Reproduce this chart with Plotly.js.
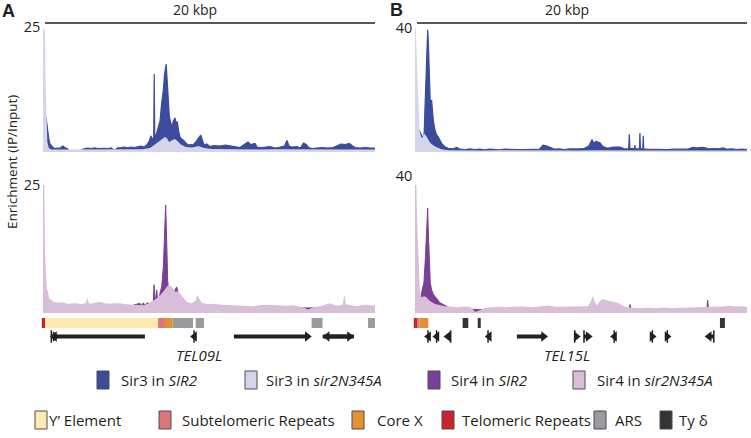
<!DOCTYPE html>
<html><head><meta charset="utf-8">
<script src="https://cdn.plot.ly/plotly-3.0.1.min.js"></script>
<style>html,body{margin:0;padding:0;background:#fff;}#chart{width:751px;height:438px;}</style>
</head><body><div id="chart"></div>
<script>
// ---------------- DATA (x = kb from chromosome end, y = enrichment IP/Input) ----------------
// Panel A (TEL09L) – Sir3
const aSir3WT_x = [0.18,0.24,0.3,0.36,0.42,0.5,0.6,0.72,0.85,1.0,1.2,1.3,1.45,1.55,1.75,2.0,2.25,2.5,2.7,2.9,3.1,3.3,3.5,3.7,3.9,4.1,4.3,4.5,4.7,4.9,5.1,5.3,5.5,5.7,5.9,6.1,6.25,6.4,6.5,6.6,6.67,6.7,6.73,6.8,6.9,7.0,7.05,7.15,7.25,7.32,7.38,7.42,7.49,7.55,7.61,7.68,7.75,7.85,7.95,8.02,8.09,8.17,8.25,8.35,8.45,8.6,8.75,8.9,9.05,9.2,9.36,9.5,9.6,9.7,9.85,10.06,10.3,10.66,11.0,11.45,11.87,12.17,12.35,12.5,12.77,12.9,13.2,13.67,14.0,14.3,14.55,14.7,14.82,15.0,15.3,15.5,15.7,15.85,16.0,16.2,16.5,16.8,17.1,17.47,17.75,17.95,18.2,18.45,18.65,18.8,19.1,19.4,19.7,20.0];
const aSir3WT_y = [7,5.2,3.5,2.4,1.6, 1.2,0.9,0.7,0.8,0.75, 1.2,0.9,0.7,0.3,0.3, 0.3,0.3,0.7,0.8,0.7, 0.85,0.7,0.8,0.75,0.7, 0.8,0.3,0.85,0.9,1.0, 0.85,1.0,0.9,1.1,1.2, 1.0,1.4,2.2,3.2,2.5, 3,15.6,3.5,3.2,4.6, 5.5,6.2,9.8,12.4,15.5, 17,17.6,13.8,10,7, 6,5,6.2,6.8,5.8, 6.1,4.2,3,2.6,2.4, 1.8,1.4,1.5,1.4,2.0, 2.8,3.4,2.4,1.4,1.6, 1.1,1.3,1.2,1.4,1.1, 0.9,1.6,2.0,1.5,1.7, 1.0,0.9,1.1,0.8,1.0, 1.2,2.3,1.2,1.0,1.1, 0.8,1.8,1.5,0.9,0.7, 0.8,0.9,0.8,0.9,1.3, 1.6,1.5,1.7,1.2,0.9, 0.8,0.9,0.8,0.8];
const aSir3Mut_x = [0,0.12,0.16,0.2,0.26,0.35,0.5,1.0,2.0,3.0,4.0,5.0,6.0,6.45,6.75,7.05,7.2,7.35,7.45,7.6,7.8,7.95,8.1,8.3,8.6,9.0,9.36,9.7,10.2,11,12,13,14,15,16,17,18,19,20];
const aSir3Mut_y = [25,24,14,6,2, 0.8,0.5,0.5,0.5,0.45, 0.5,0.5,0.55,0.8,1.5, 2.2,2.6,3.0,2.8,2.0, 2.4,2.6,2.2,1.5,1.0, 0.9,1.2,0.8,0.6,0.55, 0.6,0.5,0.55,0.5,0.5, 0.55,0.5,0.5,0.5];
// Panel A – Sir4
const aSir4WT_x = [0,0.5,1,2,3,4,5,5.84,5.95,6.05,6.14,6.3,6.45,6.49,6.64,6.69,6.74,6.77,6.85,6.95,7.05,7.15,7.25,7.31,7.39,7.45,7.51,7.61,7.75,7.95,8.05,8.15,8.25,8.36,8.45,8.7,9,10,12,14,16,18,20];
const aSir4WT_y = [1.5,1.2,1.3,1.2,1.3, 1.2,1.1,1.9,1.4,2.0, 1.5,2.0,1.7,2.0,2.0, 5.5,2.0,2.0,4.5,1.0, 3.9,5.1,9,14.9,21.1, 14.3,6.4,3.2,2.0,4.5, 5.1,3.9,2.5,1.6,1.3, 1.2,1.2,1.0,1.0,0.9, 0.9,1.0,1.0];
const aSir4Mut_x = [0,0.08,0.12,0.22,0.38,0.62,0.92,1.2,1.43,1.7,2.03,2.3,2.6,2.67,2.75,2.83,3.1,3.43,3.7,4.04,4.3,4.64,5.0,5.42,5.7,6.02,6.3,6.55,6.85,7.05,7.25,7.4,7.55,7.75,7.95,8.15,8.36,8.66,8.96,9.2,9.3,9.4,9.56,9.9,10.26,10.8,11.45,12.0,12.65,13.0,13.49,14.1,14.7,15.1,15.48,15.8,15.96,16.3,16.69,17.0,17.29,17.6,17.77,18.05,18.15,18.25,18.5,18.9,19.2,19.5,19.8,20];
const aSir4Mut_y = [25,25,12,5.1,2.9, 2.2,2.0,2.1,1.8,1.9, 1.9,1.7,2.0,3.0,2.0, 1.8,2.0,2.2,1.9,1.8, 1.9,1.9,1.7,1.6,1.6, 1.5,1.8,2.2,2.9,3.4, 4.2,4.8,5.5,5.2,4.2, 4.2,3.3,2.2,1.9,2.4, 3.4,2.8,2.0,1.7,1.8, 1.6,1.5,1.4,1.3,1.5, 1.6,1.5,1.4,1.5,1.3, 1.0,0.7,1.1,1.3,1.6, 1.9,1.5,1.4,1.6,3.5, 1.7,1.5,1.3,1.5,1.6, 1.5,1.5];
// Panel B (TEL15L) – Sir3
const bSir3WT_x = [0.25,0.36,0.44,0.5,0.56,0.6,0.66,0.72,0.765,0.8,0.84,0.88,0.92,1.0,1.1,1.2,1.3,1.4,1.6,1.8,2.0,2.3,2.51,2.7,3.0,3.3,3.6,3.9,4.2,4.5,4.8,5.1,5.4,5.7,6.0,6.3,6.6,6.9,7.2,7.5,7.71,7.9,8.13,8.4,8.7,9.0,9.3,9.6,9.9,10.2,10.45,10.66,10.8,10.9,11.14,11.3,11.6,11.93,12.15,12.35,12.6,12.87,12.91,12.95,13.1,13.22,13.25,13.28,13.45,13.52,13.55,13.58,13.65,13.72,13.75,13.78,14.0,14.4,14.8,15.2,15.6,16.0,16.4,16.75,17.0,17.35,17.7,18.0,18.3,18.55,18.8,19.1,19.4,19.7,20];
const bSir3WT_y = [7.1,5.5,4.9,2.8,7, 14,24,33,39.4,36, 28.7,21,15.8,16.8,10.3, 7.1,5.5,4.9,2.8,1.7, 1.2,1.0,1.5,0.9,0.8, 1.0,0.8,0.9,0.7,0.9, 0.8,0.7,0.9,0.8,0.9, 0.8,0.8,0.9,0.8,0.9, 2.2,2.0,1.5,0.9,1.0, 0.8,1.0,0.9,1.0,1.2, 1.8,3.9,2.8,3.5,3.0, 1.8,1.2,1.6,1.5,1.6, 1.0,1.0,5.7,1.0,1.2, 1.0,2.2,1.0,1.0,1.0, 6.1,1.0,1.0,1.0,5.2, 1.0,0.9,0.8,0.7,0.8, 0.9,0.8,0.9,1.5,1.3, 1.5,1.0,1.1,1.0,1.3, 0.9,1.0,0.8,0.9,0.8];
const bSir3Mut_x = [0,0.05,0.12,0.2,0.28,0.36,0.45,0.55,0.7,0.85,1.0,1.3,1.6,2.0,3,4,5,6,7,8,9,10,11,12,13,14,15,16,17,18,19,20];
const bSir3Mut_y = [40,40,28,14,7, 5,4.5,6,5,3.5, 2.5,1.5,0.9,0.6,0.5, 0.5,0.55,0.5,0.5,0.6, 0.5,0.5,0.6,0.5,0.5, 0.5,0.5,0.5,0.5,0.5, 0.5,0.5];
// Panel B – Sir4
const bSir4WT_x = [0,0.3,0.4,0.46,0.54,0.62,0.68,0.765,0.8,0.86,0.92,1.0,1.1,1.2,1.35,1.5,1.7,1.9,2.1,2.5,4,6,8,10,12,12.9,12.95,13.0,14,16,17.58,17.63,17.68,18,20];
const bSir4WT_y = [1,3,6,7.7,9, 15.5,22,30.6,24,14, 8.8,6.8,5.5,4.9,3.8, 3.0,2.5,2.0,1.4,1.2, 1.0,1.0,1.0,1.0,1.0, 1.0,2.5,1.0,1.0,1.0, 1.0,3.8,1.0,1.0,1.0];
const bSir4Mut_x = [0,0.08,0.14,0.2,0.3,0.4,0.55,0.7,0.9,1.2,1.5,1.8,2.2,2.6,3.0,3.31,3.5,3.61,3.75,3.92,4.22,4.6,5.0,5.5,6.0,6.5,7.0,7.5,8.0,8.5,9.0,9.5,10.0,10.42,10.6,10.72,10.85,10.96,11.1,11.25,11.5,11.75,12.0,12.23,12.5,12.77,13.2,13.55,14.0,14.5,15.0,15.5,15.96,16.5,17.0,17.5,18.0,18.5,18.98,19.3,19.6,20];
const bSir4Mut_y = [37.4,37.4,25,15.5,5.8, 4.5,5,4.5,3.5,2.6, 2.2,2.0,1.9,1.7,1.9, 1.8,1.0,0.4,0.5,0.8, 1.5,1.7,1.8,1.7,1.8, 1.9,1.7,1.9,2.2,1.8, 1.9,1.8,1.9,2.0,3.5, 5.0,3.0,2.2,3.2,4.1, 3.8,3.5,3.2,2.9,2.2, 1.6,1.5,1.4,1.5,1.4, 1.6,1.4,1.5,1.6,1.5, 1.7,1.8,1.9,2.1,1.9, 2.0,1.8];

// Genomic features (kb)
const featA_type  = ["Telomeric Repeats","Y’ Element","Subtelomeric Repeats","Core X","ARS","ARS","ARS","ARS"];
const featA_start = [-0.08, 0.12, 6.93, 7.35, 7.81, 9.2, 16.18, 19.58];
const featA_end   = [0.12, 6.93, 7.35, 7.81, 9.04, 9.7, 16.84, 20.1];
const featB_type  = ["Telomeric Repeats","Subtelomeric Repeats","Core X","Ty δ","Ty δ","Ty δ"];
const featB_start = [-0.08, 0.12, 0.26, 2.87, 3.78, 18.37];
const featB_end   = [0.12, 0.26, 0.8, 3.21, 3.96, 18.67];
// Genes: start -> end (end = arrow head)
const geneA_start = [6.14, 0.5, 9.1, 11.5, 16.85, 18.73];
const geneA_end   = [0.42, 1.0, 8.86, 16.19, 18.73, 16.85];
const geneB_start = [0.78, 1.3, 2.15, 4.4, 6.14, 9.62, 10.18, 12.0, 14.3, 15.2, 18.0];
const geneB_end   = [0.55, 1.05, 1.72, 4.2, 8.01, 9.98, 10.7, 11.75, 14.55, 15.45, 17.45];

const seriesNames = ["Sir3 in <i>SIR2</i>","Sir3 in <i>sir2N345A</i>","Sir4 in <i>SIR2</i>","Sir4 in <i>sir2N345A</i>"];
const featureNames = ["Y’ Element","Subtelomeric Repeats","Core X","Telomeric Repeats","ARS","Ty δ"];

// ---------------- STYLE ----------------
const W = 751, H = 438;
const PX = v => v / W, PY = v => 1 - v / H;
const INK = '#231f20';
const FONT = 'Open Sans, Liberation Sans, sans-serif';
const seriesColors = ["#3b4c9c","#d5d5ea","#7b3f97","#d8bed9"];
const featureColors = {"Y’ Element":"#fcebb1","Subtelomeric Repeats":"#d9777a","Core X":"#e4922f","Telomeric Repeats":"#cc2229","ARS":"#9a9b9e","Ty δ":"#353535"};
const KB_PX = 16.6; // pixels per kb
const headOff = 4.5 / KB_PX;

const traces = [];
function area(x, y, xa, ya, color, lw) {
  traces.push({type:'scatter', mode:'lines', x:x, y:y, xaxis:xa, yaxis:ya, fill:'tozeroy',
    fillcolor:color, line:{color:color, width:lw}, hoverinfo:'skip', showlegend:false});
}
area(aSir3WT_x, aSir3WT_y, 'x', 'y', seriesColors[0], 1.2);
area(aSir3Mut_x, aSir3Mut_y, 'x', 'y', seriesColors[1], 0);
area(aSir4WT_x, aSir4WT_y, 'x2', 'y2', seriesColors[2], 1.0);
area(aSir4Mut_x, aSir4Mut_y, 'x2', 'y2', seriesColors[3], 0);
area(bSir3WT_x, bSir3WT_y, 'x3', 'y3', seriesColors[0], 1.2);
area(bSir3Mut_x, bSir3Mut_y, 'x3', 'y3', seriesColors[1], 0);
area(bSir4WT_x, bSir4WT_y, 'x4', 'y4', seriesColors[2], 1.0);
area(bSir4Mut_x, bSir4Mut_y, 'x4', 'y4', seriesColors[3], 0);

function features(types, starts, ends, xa, ya) {
  const uniq = [...new Set(types)];
  uniq.forEach(t => {
    const idx = types.map((v,i)=>v===t?i:-1).filter(i=>i>=0);
    traces.push({type:'bar', orientation:'h', xaxis:xa, yaxis:ya,
      base: idx.map(i=>starts[i]), x: idx.map(i=>ends[i]-starts[i]), y: idx.map(()=>23),
      width: idx.map(()=>10), marker:{color:featureColors[t], line:{width:0}}, hoverinfo:'skip', showlegend:false});
  });
}
features(featA_type, featA_start, featA_end, 'x5', 'y5');
features(featB_type, featB_start, featB_end, 'x6', 'y6');

function genes(starts, ends, xa, ya) {
  const lx = [], ly = [], mx = [], my = [], ms = [], tx = [], ty = [];
  starts.forEach((s,i) => {
    const e = ends[i], d = e > s ? 1 : -1;
    const hc = e - d*headOff;
    lx.push(s, hc, null); ly.push(9.5, 9.5, null);
    mx.push(hc); my.push(9.5); ms.push(d>0?'triangle-right':'triangle-left');
    if (Math.abs(e - s) < 0.6) { tx.push(s); ty.push(9.5); }
  });
  traces.push({type:'scatter', mode:'lines', x:lx, y:ly, xaxis:xa, yaxis:ya, line:{color:INK, width:4}, hoverinfo:'skip', showlegend:false, connectgaps:false});
  traces.push({type:'scatter', mode:'markers', x:mx, y:my, xaxis:xa, yaxis:ya, marker:{symbol:ms, size:9, color:INK, line:{width:0}}, hoverinfo:'skip', showlegend:false});
  if (tx.length) traces.push({type:'scatter', mode:'markers', x:tx, y:ty, xaxis:xa, yaxis:ya, marker:{symbol:'line-ns', size:9, line:{color:INK, width:1.5}}, hoverinfo:'skip', showlegend:false});
}
genes(geneA_start, geneA_end, 'x5', 'y5');
genes(geneB_start, geneB_end, 'x6', 'y6');

const base = {showgrid:false, zeroline:false, showline:false, fixedrange:true};
const xA = Object.assign({}, base, {domain:[PX(41.34), PX(375)], range:[-0.1,20], visible:false});
const xB = Object.assign({}, base, {domain:[PX(413.34), PX(747)], range:[-0.1,20], visible:false});
function yAx(d0, d1, top, anchor) {
  return Object.assign({}, base, {domain:[PY(d0), PY(d1)], range:[0, top], tickvals:[top], ticks:'',
    anchor:anchor, tickfont:{family:FONT, size:14.5, color:INK}});
}

const annotations = [
  {text:'<b>A</b>', x:PX(8.5), y:PY(11), font:{family:'Liberation Sans, Arial', size:18, color:INK}},
  {text:'<b>B</b>', x:PX(396), y:PY(10), font:{family:'Liberation Sans, Arial', size:18, color:INK}},
  {text:'20 kbp', x:PX(195), y:PY(10), font:{family:FONT, size:14, color:INK}},
  {text:'20 kbp', x:PX(567), y:PY(10), font:{family:FONT, size:14, color:INK}},
  {text:'Enrichment (IP/Input)', x:PX(12), y:PY(162), textangle:-90, font:{family:FONT, size:13.5, color:INK}},
  {text:'<i>TEL09L</i>', x:PX(199), y:PY(355), font:{family:FONT, size:15, color:INK}},
  {text:'<i>TEL15L</i>', x:PX(567), y:PY(355), font:{family:FONT, size:15, color:INK}}
].map(a => Object.assign({xref:'paper', yref:'paper', showarrow:false, xanchor:'center', yanchor:'middle'}, a));

const shapes = [
  {type:'line', xref:'x', yref:'paper', x0:0.12, x1:20, y0:PY(23), y1:PY(23), line:{color:INK, width:1.5}},
  {type:'line', xref:'x3', yref:'paper', x0:0.12, x1:20, y0:PY(23), y1:PY(23), line:{color:INK, width:1.5}}
];

// legends
const leg1Box = [97, 245, 428, 573], leg1Txt = [119, 264, 449, 595];
const leg2Box = [35, 159, 352, 442, 594, 660], leg2Txt = [47, 180, 375, 460, 613, 677];
function legendRow(names, colors, boxX, txtX, yc) {
  names.forEach((n,i) => {
    shapes.push({type:'rect', xref:'paper', yref:'paper', x0:PX(boxX[i]), x1:PX(boxX[i]+12), y0:PY(yc+9), y1:PY(yc-9),
      fillcolor:colors[i], line:{color:'#4d4d4f', width:1}});
    annotations.push({text:n, x:PX(txtX[i]), y:PY(yc), xref:'paper', yref:'paper', xanchor:'left', yanchor:'middle', showarrow:false,
      font:{family:FONT, size:15, color:INK}});
  });
}
legendRow(seriesNames, seriesColors, leg1Box, leg1Txt, 380);
legendRow(featureNames, featureNames.map(n=>featureColors[n]), leg2Box, leg2Txt, 420);

const layout = {
  width:W, height:H, margin:{l:0,r:0,t:0,b:0}, paper_bgcolor:'#fff', plot_bgcolor:'rgba(0,0,0,0)',
  showlegend:false, hovermode:false, barmode:'overlay',
  font:{family:FONT, color:INK},
  xaxis:Object.assign({}, xA, {anchor:'y'}),
  xaxis2:Object.assign({}, xA, {anchor:'y2'}),
  xaxis3:Object.assign({}, xB, {anchor:'y3'}),
  xaxis4:Object.assign({}, xB, {anchor:'y4'}),
  xaxis5:Object.assign({}, xA, {anchor:'y5'}),
  xaxis6:Object.assign({}, xB, {anchor:'y6'}),
  yaxis:yAx(152, 27, 25, 'x'),
  yaxis2:yAx(313, 185, 25, 'x2'),
  yaxis3:yAx(152, 28, 40, 'x3'),
  yaxis4:yAx(313, 176, 40, 'x4'),
  yaxis5:Object.assign({}, base, {domain:[PY(346), PY(316)], range:[0,30], visible:false, anchor:'x5'}),
  yaxis6:Object.assign({}, base, {domain:[PY(346), PY(316)], range:[0,30], visible:false, anchor:'x6'}),
  annotations:annotations, shapes:shapes
};
Plotly.newPlot('chart', traces, layout, {displayModeBar:false, staticPlot:true});
</script>
</body></html>
